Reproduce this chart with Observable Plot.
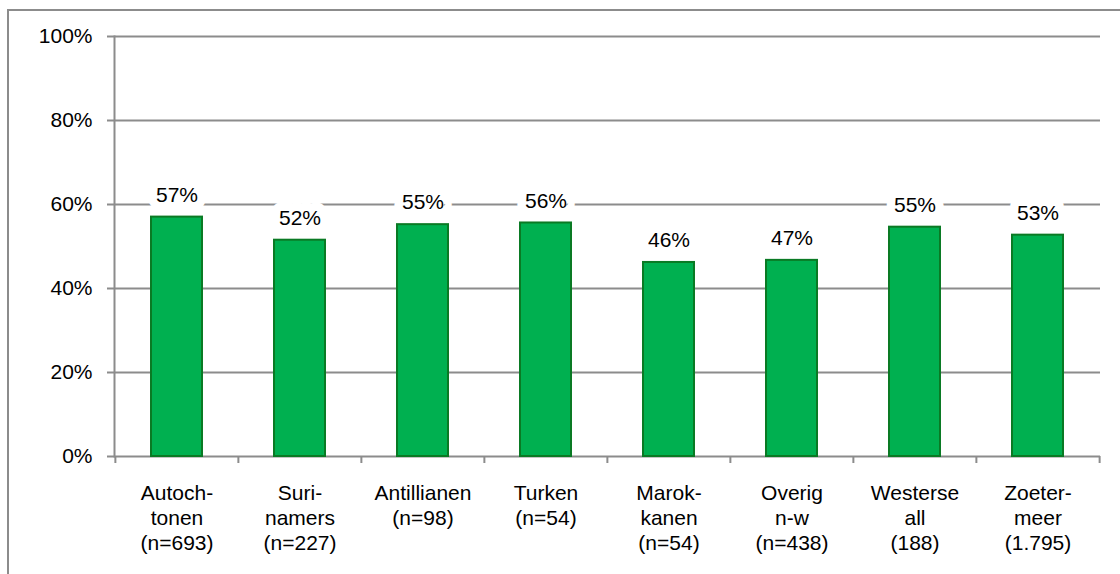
<!DOCTYPE html>
<html>
<head>
<meta charset="utf-8">
<script src="https://cdn.jsdelivr.net/npm/d3@7"></script>
<script src="https://cdn.jsdelivr.net/npm/@observablehq/plot@0.6"></script>
<style>
  html, body { margin: 0; padding: 0; background: #fff; }
  body { width: 1120px; height: 574px; position: relative; overflow: hidden; }
  #border { position: absolute; left: 7px; top: 9px; width: 1120px; height: 574px;
            border-left: 2px solid #8c8c8c; border-top: 2px solid #8c8c8c; box-sizing: border-box; }
  #chart { position: absolute; left: 0; top: 0; }
</style>
</head>
<body>
<div id="border"></div>
<div id="chart"></div>
<script>
const categories = [
  "Autoch-\ntonen\n(n=693)",
  "Suri-\nnamers\n(n=227)",
  "Antillianen\n(n=98)",
  "Turken\n(n=54)",
  "Marok-\nkanen\n(n=54)",
  "Overig\nn-w\n(n=438)",
  "Westerse\nall\n(188)",
  "Zoeter-\nmeer\n(1.795)"
];
const values = [0.570, 0.515, 0.552, 0.556, 0.462, 0.467, 0.546, 0.527];
const yTicks = [0, 0.2, 0.4, 0.6, 0.8, 1.0];

const data = categories.map((c, i) => ({category: c, value: values[i]}));

const W = 1120, H = 574;
const ML = 114, MR = 20, MT = 36, MB = 118;
const bw = (W - ML - MR) / categories.length;
const gray = "#8c8c8c";
const font = "Liberation Sans, Arial, sans-serif";

const chart = Plot.plot({
  width: W,
  height: H,
  marginLeft: ML,
  marginRight: MR,
  marginTop: MT,
  marginBottom: MB,
  style: {fontFamily: font, fontSize: "21px", color: "#000", background: "transparent"},
  x: {domain: categories, padding: 0, label: null},
  y: {domain: [0, 1], label: null},
  marks: [
    Plot.ruleY(yTicks, {stroke: gray, strokeWidth: 2, insetLeft: -7}),
    Plot.frame({anchor: "left", stroke: gray, strokeWidth: 2}),
    Plot.axisY({ticks: yTicks, tickSize: 0, tickPadding: 22, tickFormat: d3.format(".0%"), fontSize: 21, fill: "#000"}),
    Plot.axisX({tickSize: 7, tickFormat: () => "", stroke: gray, strokeWidth: 2, dx: -bw / 2}),
    Plot.axisX([categories[categories.length - 1]], {tickSize: 7, tickFormat: () => "", stroke: gray, strokeWidth: 2, dx: bw / 2}),
    Plot.axisX({tickSize: 0, tickPadding: 25, lineHeight: 1.21, fontSize: 21, fill: "#000"}),
    Plot.barY(data, {x: "category", y: "value", fill: "#00b050", stroke: "#0a7a24", strokeWidth: 2, insetLeft: 36, insetRight: 36}),
    Plot.text(data, {x: "category", y: "value", text: d => d3.format(".0%")(d.value), dy: -22,
      fontSize: 21, fill: "#000", stroke: "white", strokeWidth: 17, paintOrder: "stroke", lineAnchor: "middle"})
  ]
});
document.getElementById("chart").appendChild(chart);
</script>
</body>
</html>
